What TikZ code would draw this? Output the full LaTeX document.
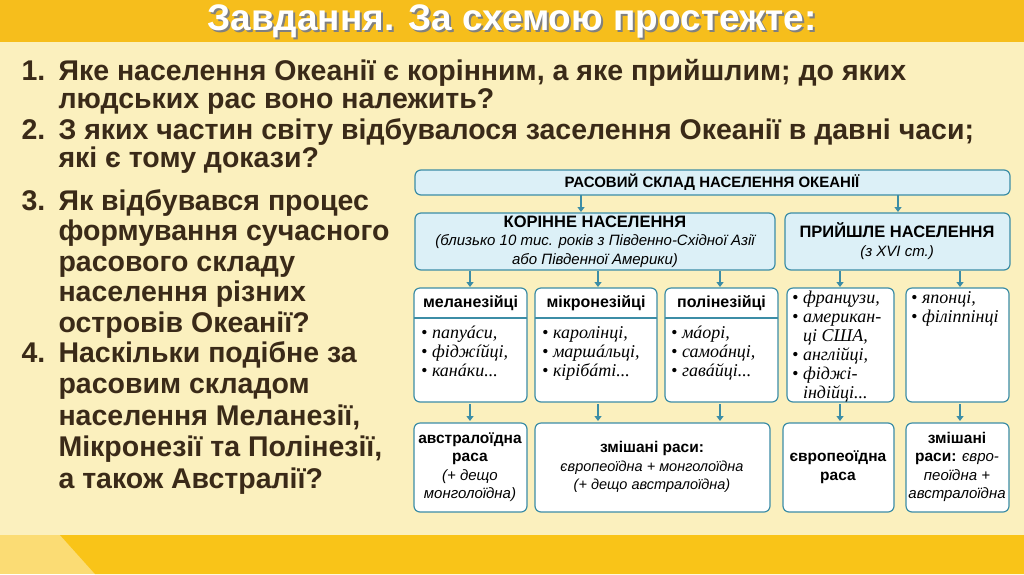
\documentclass[tikz,border=0pt]{standalone}
\usepackage{fontspec}
\usetikzlibrary{arrows.meta}
\setmainfont{Liberation Sans}
\definecolor{bg}{HTML}{FBF0BE}
\definecolor{band}{HTML}{F6BE1C}
\definecolor{bline}{HTML}{3C8DA6}
\definecolor{bfill}{HTML}{DCF0F7}
\definecolor{txt}{HTML}{3A2A18}
\definecolor{orng}{HTML}{F9C418}
\begin{document}
\begin{tikzpicture}[x=1pt,y=-1pt,
  q/.style={anchor=base west,font=\fontsize{28.5}{28.5}\bfseries,text=txt},
  bx/.style={draw=bline,line width=1.2pt,rounded corners=6pt,fill=white},
  hb/.style={draw=bline,line width=1.2pt,rounded corners=6pt,fill=bfill},
  ar/.style={-{Triangle[width=7pt,length=5pt]},draw=bline,line width=2.5pt,shorten >=-1pt},
  ct/.style={align=center,font=\fontsize{15}{18.5}\selectfont,inner sep=0pt},
  it/.style={align=left,anchor=north west,font=\fontsize{18}{19}\itshape\fontspec{Liberation Serif},inner sep=0pt}]
\useasboundingbox (0,0) rectangle (1024,574);
\fill[bg] (0,0) rectangle (1024,574);
\fill[band] (0,0) rectangle (1024,42);
\fill[orng!60!white] (0,535) rectangle (1024,574);
\fill[orng] (60,535) -- (1024,535) -- (1024,574) -- (95,574) -- cycle;
\node[text=black!50,font=\fontsize{37}{37}\bfseries] at (514,23) {Завдання. За схемою простежте:};
\node[text=white,font=\fontsize{37}{37}\bfseries] (title) at (512,21) {Завдання. За схемою простежте:};
% questions
\node[q] (n1) at (18,80) {1.}; \node[q] (q1a) at (55,80) {Яке населення Океанії є корінним, а яке прийшлим; до яких};
\node[q] (q1b) at (55,108) {людських рас воно належить?};
\node[q] (n2) at (18,139) {2.}; \node[q] (q2a) at (55,139) {З яких частин світу відбувалося заселення Океанії в давні часи;};
\node[q] (q2b) at (55,167) {які є тому докази?};
\node[q] (n3) at (18,210) {3.};
\foreach \t [count=\i] in {Як відбувався процес,формування сучасного,расового складу,населення різних,островів Океанії?}
  \node[q] (q3\i) at (55,{210+(\i-1)*30.5}) {\t};
\node[q] (n4) at (18,362) {4.};
\foreach \t [count=\i] in {Наскільки подібне за,расовим складом,{населення Меланезії,},{Мікронезії та Полінезії,},а також Австралії?}
  \node[q] (q4\i) at (55,{362+(\i-1)*31.5}) {\t};
% diagram
\draw[hb] (415,170) rectangle (1010,195);
\node[ct,font=\fontsize{15}{15}\bfseries] (top) at (712,182.5) {РАСОВИЙ СКЛАД НАСЕЛЕННЯ ОКЕАНІЇ};
\draw[hb] (415,213) rectangle (775,270);
\node[ct] (kor) at (595,241.5) {\textbf{\fontsize{16.5}{19}\selectfont КОРІННЕ НАСЕЛЕННЯ}\\\itshape (близько 10 тис. років з Південно-Східної Азії\\\itshape або Південної Америки)};
\draw[hb] (785,213) rectangle (1010,270);
\node[ct] (pry) at (897,241) {\textbf{\fontsize{16.5}{20}\selectfont ПРИЙШЛЕ НАСЕЛЕННЯ}\\\itshape (з XVI ст.)};
\coordinate (t1) at (581,195); \coordinate (k0) at (581,211);
\coordinate (t2) at (898,195); \coordinate (p0) at (898,211);
\draw[ar] (t1) -- (k0); \draw[ar] (t2) -- (p0);
% row
\foreach \a/\b/\n/\h in {414/527/m/меланезійці,535/657/mi/мікронезійці,665/778/po/полінезійці}{
  \draw[bx] (\a,288) rectangle (\b,402);
  \draw[bline,line width=1.2pt] (\a,318) -- (\b,318);
  \node[ct,font=\fontsize{16}{16}\bfseries] (\n) at ({(\a+\b)/2},303) {\h};}
\draw[bx] (787,288) rectangle (894,402);
\draw[bx] (906,288) rectangle (1009,402);
\node[it] (mt) at (421,326) {• папуáси,\\• фіджíйці,\\• канáки...};
\node[it] (mit) at (542,326) {• каролінці,\\• маршáльці,\\• кірібáті...};
\node[it] (pot) at (671,326) {• мáорі,\\• самоáнці,\\• гавáйці...};
\node[it] (frt) at (792,291) {• французи,\\• американ-\\\phantom{• }ці США,\\• англійці,\\• фіджі-\\\phantom{• }індійці...};
\node[it] (jat) at (911,291) {• японці,\\• філіппінці};
\foreach \x in {470,598,720}{\draw[ar] (\x,271) -- (\x,286);}
\foreach \x in {840,960}{\draw[ar] (\x,271) -- (\x,286);}
% bottom
\draw[bx] (414,423) rectangle (527,512);
\draw[bx] (535,423) rectangle (770,512);
\draw[bx] (783,423) rectangle (894,512);
\draw[bx] (906,423) rectangle (1009,512);
\node[ct] (b1) at (470,467) {\textbf{\fontsize{15.5}{18.5}\selectfont австралоїдна}\\\textbf{\fontsize{15.5}{18.5}\selectfont раса}\\\itshape (+ дещо\\\itshape монголоїдна)};
\node[ct] (b2) at (652,467) {\textbf{\fontsize{15.5}{19}\selectfont змішані раси:}\\\itshape\fontsize{14.5}{18.5}\selectfont європеоїдна + монголоїдна\\\itshape\fontsize{14.5}{18.5}\selectfont (+ дещо австралоїдна)};
\node[ct] (b3) at (838,467) {\textbf{\fontsize{15.5}{19}\selectfont європеоїдна}\\\textbf{\fontsize{15.5}{19}\selectfont раса}};
\node[ct] (b4) at (957,467) {\textbf{\fontsize{15.5}{18.5}\selectfont змішані}\\\textbf{\fontsize{15.5}{18.5}\selectfont раси:} \itshape євро-\\\itshape пеоїдна +\\\itshape австралоїдна};
\foreach \x in {470,598,720,840,960}{\draw[ar] (\x,404) -- (\x,420);}
\end{tikzpicture}
\end{document}
